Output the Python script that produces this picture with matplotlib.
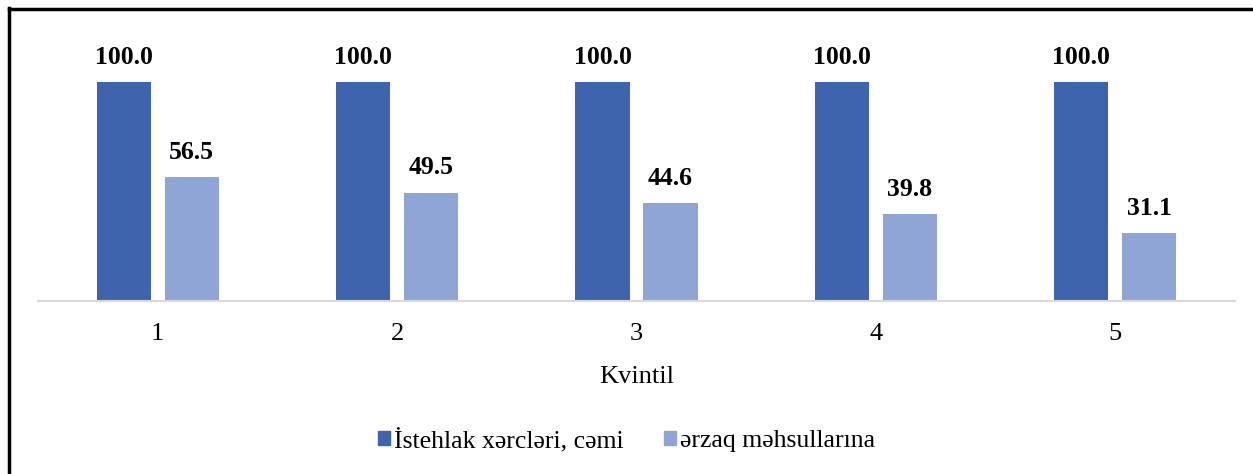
import matplotlib
matplotlib.use("Agg")
import matplotlib.pyplot as plt
import numpy as np
from matplotlib.lines import Line2D

categories = ["1", "2", "3", "4", "5"]
total = [100.0, 100.0, 100.0, 100.0, 100.0]
food = [56.5, 49.5, 44.6, 39.8, 31.1]
series_names = ["İstehlak xərcləri, cəmi", "ərzaq məhsullarına"]
xlabel = "Kvintil"

plt.rcParams['font.family'] = ['Liberation Serif', 'DejaVu Serif']

W, H = 1253, 474
fig = plt.figure(figsize=(W/100, H/100), dpi=100)
ax = fig.add_axes([38/W, (H-301)/H, (1235-38)/W, (301-38)/H])

x = np.arange(len(categories))
bw = 0.226
gap = 0.058
off = (bw + gap) / 2
c1, c2 = "#3D64AD", "#8FA5D5"
b1 = ax.bar(x - off, total, bw, color=c1, label=series_names[0])
b2 = ax.bar(x + off, food, bw, color=c2, label=series_names[1])
for bars, vals in ((b1, total), (b2, food)):
    for r, v in zip(bars, vals):
        ax.annotate(f"{v:.1f}", (r.get_x() + r.get_width()/2, v), xytext=(0, 9.5),
                    textcoords="offset points", ha="center", va="bottom",
                    fontsize=18.5, fontweight="bold")

ax.set_xlim(-0.5, len(categories) - 0.5)
ax.set_ylim(0, 120)
ax.set_yticks([])
for s in ["top", "right", "left"]:
    ax.spines[s].set_visible(False)
ax.spines["bottom"].set_color("#D9D9D9")
ax.spines["bottom"].set_linewidth(1.5)
ax.set_xticks(x)
ax.set_xticklabels(categories, fontsize=19)
ax.tick_params(axis="x", length=0, pad=16)
ax.set_xlabel(xlabel, fontsize=19, labelpad=15)

handles = [plt.Rectangle((0, 0), 1, 1, color=c1), plt.Rectangle((0, 0), 1, 1, color=c2)]
fig.legend(handles, series_names, loc="center", bbox_to_anchor=(0.5, 1 - 440/H), ncol=2,
           frameon=False, fontsize=18.5, handlelength=0.48, handleheight=0.48,
           handletextpad=0.15, columnspacing=1.55)

# border lines (top and left)
fig.add_artist(Line2D([8.5/W, 1], [1 - 9/H, 1 - 9/H], transform=fig.transFigure, color="black", lw=2.5))
fig.add_artist(Line2D([9/W, 9/W], [0, 1 - 8/H], transform=fig.transFigure, color="black", lw=2.5))

fig.savefig("out.png", dpi=100)
